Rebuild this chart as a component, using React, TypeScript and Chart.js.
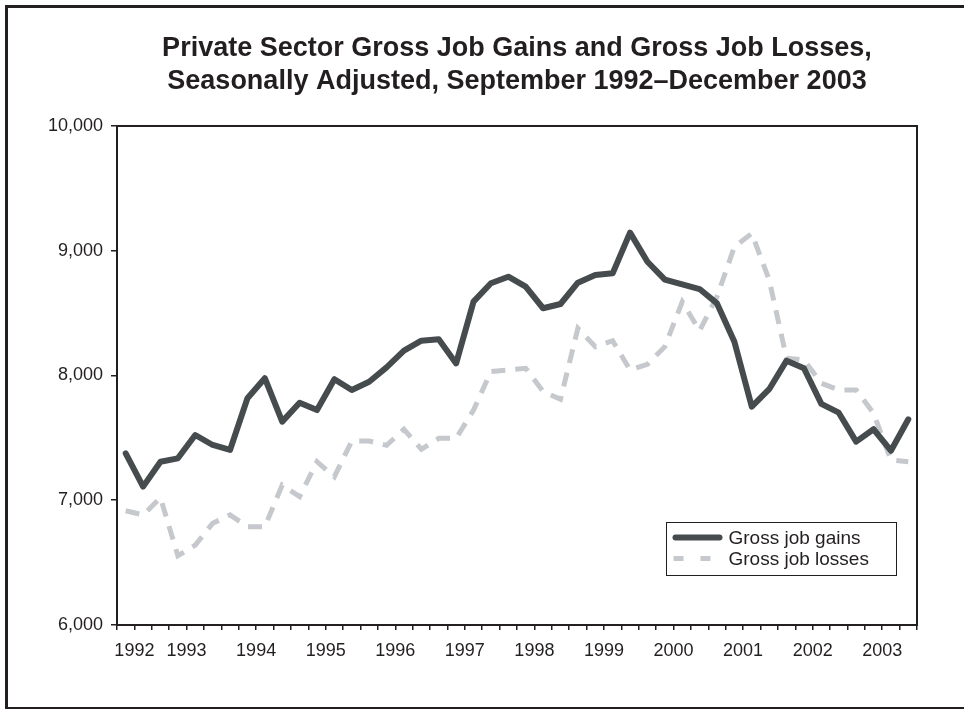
import { useEffect, useRef } from 'react';
import { Chart, registerables } from 'chart.js';

Chart.register(...registerables);

const quarters = [
  '1992 Q3', '1992 Q4',
  '1993 Q1', '1993 Q2', '1993 Q3', '1993 Q4',
  '1994 Q1', '1994 Q2', '1994 Q3', '1994 Q4',
  '1995 Q1', '1995 Q2', '1995 Q3', '1995 Q4',
  '1996 Q1', '1996 Q2', '1996 Q3', '1996 Q4',
  '1997 Q1', '1997 Q2', '1997 Q3', '1997 Q4',
  '1998 Q1', '1998 Q2', '1998 Q3', '1998 Q4',
  '1999 Q1', '1999 Q2', '1999 Q3', '1999 Q4',
  '2000 Q1', '2000 Q2', '2000 Q3', '2000 Q4',
  '2001 Q1', '2001 Q2', '2001 Q3', '2001 Q4',
  '2002 Q1', '2002 Q2', '2002 Q3', '2002 Q4',
  '2003 Q1', '2003 Q2', '2003 Q3', '2003 Q4',
];

const grossJobGains = [
  7376, 7109,
  7309, 7336, 7523, 7443,
  7403, 7817, 7978, 7630,
  7782, 7723, 7970, 7884,
  7950, 8065, 8199, 8279,
  8290, 8097, 8592, 8739,
  8792, 8712, 8539, 8573,
  8744, 8806, 8819, 9145,
  8912, 8768, 8730, 8693,
  8578, 8271, 7750, 7890,
  8119, 8058, 7772, 7702,
  7470, 7569, 7397, 7649,
];

const grossJobLosses = [
  6916, 6882,
  7020, 6555, 6641, 6815,
  6882, 6788, 6788, 7122,
  7029, 7309, 7189, 7475,
  7475, 7440, 7569, 7408,
  7496, 7496, 7723, 8031,
  8044, 8058, 7871, 7809,
  8378, 8231, 8279, 8044,
  8090, 8231, 8590, 8359,
  8632, 9032, 9139, 8766,
  8138, 8124, 7937, 7884,
  7884, 7697, 7323, 7309,
];

const seriesLabels = ['Gross job gains', 'Gross job losses'];
const titleLines = [
  'Private Sector Gross Job Gains and Gross Job Losses,',
  'Seasonally Adjusted, September 1992\u2013December 2003',
];
const yTicks = [6000, 7000, 8000, 9000, 10000];

const FONT = "'Liberation Sans', Arial, Helvetica, sans-serif";
const INK = '#231f20';
const GAINS_COLOR = '#464c4e';
const LOSSES_COLOR = '#c5c8cc';

const framePlugin = {
  id: 'frameAndBox',
  beforeDraw(chart: any) {
    const { ctx, width, height } = chart;
    ctx.save();
    ctx.fillStyle = '#ffffff';
    ctx.fillRect(0, 0, width, height);
    ctx.restore();
  },
  afterDraw(chart: any) {
    const { ctx, chartArea, height, width } = chart;
    ctx.save();
    // outer frame
    ctx.strokeStyle = INK;
    ctx.lineWidth = 3;
    ctx.beginPath();
    ctx.moveTo(width, 6.5);
    ctx.lineTo(6.5, 6.5);
    ctx.lineTo(6.5, height);
    ctx.stroke();
    ctx.lineWidth = 2;
    ctx.beginPath();
    ctx.moveTo(5, height - 1);
    ctx.lineTo(width, height - 1);
    ctx.stroke();
    // plot box
    ctx.lineWidth = 2;
    ctx.strokeRect(chartArea.left, chartArea.top, chartArea.right - chartArea.left, chartArea.bottom - chartArea.top);

    // legend
    const w = 230;
    const h = 53;
    const x = Math.round(chartArea.right - 21 - w) + 0.5;
    const y = Math.round(chartArea.bottom - 50 - h) + 0.5;
    ctx.fillStyle = '#ffffff';
    ctx.fillRect(x, y, w, h);
    ctx.lineWidth = 1;
    ctx.strokeStyle = INK;
    ctx.strokeRect(x, y, w, h);
    const ds = chart.data.datasets;
    const rows = [y + 15, y + 36];
    ds.forEach((d: any, i: number) => {
      const ry = rows[i];
      ctx.save();
      ctx.strokeStyle = d.borderColor;
      if (i === 0) {
        ctx.lineWidth = 6;
        ctx.lineCap = 'round';
        ctx.setLineDash([]);
        ctx.beginPath();
        ctx.moveTo(x + 9, ry);
        ctx.lineTo(x + 53, ry);
        ctx.stroke();
      } else {
        ctx.lineWidth = 5;
        ctx.lineCap = 'butt';
        ctx.setLineDash([10, 17]);
        ctx.beginPath();
        ctx.moveTo(x + 7, ry);
        ctx.lineTo(x + 56, ry);
        ctx.stroke();
      }
      ctx.restore();
      ctx.fillStyle = INK;
      ctx.font = `19px ${FONT}`;
      ctx.textAlign = 'left';
      ctx.textBaseline = 'middle';
      ctx.fillText(d.label, x + 62, ry + 1);
    });
    ctx.restore();
  },
};

export default function App() {
  const canvasRef = useRef<HTMLCanvasElement | null>(null);

  useEffect(() => {
    if (!canvasRef.current) return;
    const chart = new Chart(canvasRef.current, {
      type: 'line',
      data: {
        labels: quarters,
        datasets: [
          {
            label: seriesLabels[0],
            data: grossJobGains,
            borderColor: GAINS_COLOR,
            backgroundColor: GAINS_COLOR,
            borderWidth: 6,
            pointRadius: 0,
            tension: 0,
            borderJoinStyle: 'round',
            borderCapStyle: 'round',
            fill: false,
            order: 1,
          },
          {
            label: seriesLabels[1],
            data: grossJobLosses,
            borderColor: LOSSES_COLOR,
            backgroundColor: LOSSES_COLOR,
            borderWidth: 5,
            borderDash: [14, 10],
            pointRadius: 0,
            tension: 0,
            fill: false,
            order: 2,
          },
        ],
      },
      options: {
        animation: false,
        responsive: false,
        layout: { padding: { left: 0, right: 47, top: 0, bottom: 0 } },
        plugins: {
          legend: { display: false },
          tooltip: { enabled: false },
          title: {
            display: true,
            text: titleLines,
            fullSize: false,
            color: INK,
            font: { family: FONT, size: 27, weight: 'bold', lineHeight: 1.222 },
            padding: { top: 32, bottom: 28 },
          },
        },
        scales: {
          x: {
            type: 'category',
            offset: true,
            afterFit: (scale: any) => {
              scale.height = 84;
            },
            border: { display: false },
            grid: {
              offset: true,
              drawOnChartArea: false,
              drawTicks: true,
              tickLength: 5,
              color: INK,
              lineWidth: 1.5,
            },
            ticks: {
              autoSkip: false,
              maxRotation: 0,
              minRotation: 0,
              padding: 10,
              labelOffset: 8.7,
              color: INK,
              font: { family: FONT, size: 18 },
              callback: (value: any, index: number) => {
                const q = quarters[index];
                if (index === 0 || q.endsWith('Q2')) return q.slice(0, 4);
                return '';
              },
            },
          },
          y: {
            min: yTicks[0],
            max: yTicks[yTicks.length - 1],
            afterFit: (scale: any) => {
              scale.width = 117;
            },
            afterBuildTicks: (scale: any) => {
              scale.ticks = yTicks.map((v) => ({ value: v }));
            },
            border: { display: false },
            grid: {
              drawOnChartArea: false,
              drawTicks: true,
              tickLength: 6,
              color: INK,
              lineWidth: 1.5,
            },
            ticks: {
              padding: 8,
              color: INK,
              font: { family: FONT, size: 18 },
              callback: (value: any) => Number(value).toLocaleString('en-US'),
            },
          },
        },
      },
      plugins: [framePlugin],
    } as any);
    return () => chart.destroy();
  }, []);

  return (
    <div style={{ position: 'absolute', left: 0, top: 0, width: 964, height: 709, background: '#fff' }}>
      <canvas ref={canvasRef} width={964} height={709} style={{ display: 'block' }} />
    </div>
  );
}
